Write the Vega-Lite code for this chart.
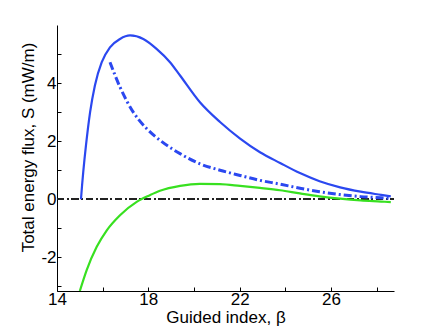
{
  "$schema": "https://vega.github.io/schema/vega-lite/v6.json",
  "width": 337,
  "height": 266,
  "autosize": {"type": "none"},
  "padding": {"left": 57, "top": 25, "right": 42, "bottom": 38},
  "background": "white",
  "config": {
    "view": {"stroke": null},
    "axis": {
      "grid": false,
      "domainColor": "black",
      "domainWidth": 1,
      "tickColor": "black",
      "tickWidth": 1,
      "tickSize": -4,
      "labelFont": "Liberation Sans",
      "labelFontSize": 17,
      "labelColor": "black",
      "labelFlush": false,
      "titleFont": "Liberation Sans",
      "titleFontSize": 17,
      "titleFontWeight": "normal",
      "titleColor": "black"
    }
  },
  "datasets": {
    "curves": [
      {"beta": 15.05, "S": 0.0, "series": "blue"},
      {"beta": 15.1, "S": 0.5, "series": "blue"},
      {"beta": 15.15, "S": 0.94, "series": "blue"},
      {"beta": 15.27, "S": 1.86, "series": "blue"},
      {"beta": 15.45, "S": 3.0, "series": "blue"},
      {"beta": 15.66, "S": 3.92, "series": "blue"},
      {"beta": 15.96, "S": 4.72, "series": "blue"},
      {"beta": 16.32, "S": 5.23, "series": "blue"},
      {"beta": 16.76, "S": 5.52, "series": "blue"},
      {"beta": 17.2, "S": 5.64, "series": "blue"},
      {"beta": 17.78, "S": 5.52, "series": "blue"},
      {"beta": 18.36, "S": 5.18, "series": "blue"},
      {"beta": 18.95, "S": 4.72, "series": "blue"},
      {"beta": 19.39, "S": 4.26, "series": "blue"},
      {"beta": 20.26, "S": 3.34, "series": "blue"},
      {"beta": 21.14, "S": 2.66, "series": "blue"},
      {"beta": 22.02, "S": 2.09, "series": "blue"},
      {"beta": 22.89, "S": 1.62, "series": "blue"},
      {"beta": 23.77, "S": 1.25, "series": "blue"},
      {"beta": 24.64, "S": 0.9, "series": "blue"},
      {"beta": 25.5, "S": 0.62, "series": "blue"},
      {"beta": 26.4, "S": 0.41, "series": "blue"},
      {"beta": 27.3, "S": 0.26, "series": "blue"},
      {"beta": 28.2, "S": 0.15, "series": "blue"},
      {"beta": 28.62, "S": 0.1, "series": "blue"},
      {"beta": 16.32, "S": 4.72, "series": "bluedash"},
      {"beta": 16.76, "S": 3.86, "series": "bluedash"},
      {"beta": 17.34, "S": 3.0, "series": "bluedash"},
      {"beta": 17.93, "S": 2.43, "series": "bluedash"},
      {"beta": 18.51, "S": 2.03, "series": "bluedash"},
      {"beta": 19.39, "S": 1.57, "series": "bluedash"},
      {"beta": 20.26, "S": 1.22, "series": "bluedash"},
      {"beta": 21.14, "S": 1.0, "series": "bluedash"},
      {"beta": 22.02, "S": 0.82, "series": "bluedash"},
      {"beta": 22.89, "S": 0.65, "series": "bluedash"},
      {"beta": 23.77, "S": 0.52, "series": "bluedash"},
      {"beta": 24.64, "S": 0.38, "series": "bluedash"},
      {"beta": 25.5, "S": 0.26, "series": "bluedash"},
      {"beta": 26.4, "S": 0.16, "series": "bluedash"},
      {"beta": 27.3, "S": 0.09, "series": "bluedash"},
      {"beta": 28.2, "S": 0.05, "series": "bluedash"},
      {"beta": 28.62, "S": 0.03, "series": "bluedash"},
      {"beta": 15.0, "S": -3.16, "series": "green"},
      {"beta": 15.3, "S": -2.44, "series": "green"},
      {"beta": 15.74, "S": -1.64, "series": "green"},
      {"beta": 16.18, "S": -1.07, "series": "green"},
      {"beta": 16.76, "S": -0.55, "series": "green"},
      {"beta": 17.49, "S": -0.09, "series": "green"},
      {"beta": 18.07, "S": 0.14, "series": "green"},
      {"beta": 18.51, "S": 0.29, "series": "green"},
      {"beta": 19.39, "S": 0.46, "series": "green"},
      {"beta": 20.26, "S": 0.53, "series": "green"},
      {"beta": 21.14, "S": 0.52, "series": "green"},
      {"beta": 22.02, "S": 0.46, "series": "green"},
      {"beta": 22.89, "S": 0.39, "series": "green"},
      {"beta": 23.77, "S": 0.31, "series": "green"},
      {"beta": 24.64, "S": 0.2, "series": "green"},
      {"beta": 25.5, "S": 0.1, "series": "green"},
      {"beta": 26.4, "S": 0.02, "series": "green"},
      {"beta": 27.3, "S": -0.04, "series": "green"},
      {"beta": 28.2, "S": -0.08, "series": "green"},
      {"beta": 28.62, "S": -0.1, "series": "green"}
    ]
  },
  "data": {"name": "curves"},
  "encoding": {
    "x": {
      "field": "beta", "type": "quantitative",
      "scale": {"domain": [14, 28.76], "nice": false, "zero": false},
      "axis": {
        "title": "Guided index, β",
        "values": [14, 16, 18, 20, 22, 24, 26, 28],
        "labelExpr": "datum.value % 4 == 0 ? '' : datum.label",
        "labelPadding": 4,
        "titleBaseline": "alphabetic",
        "titleY": 31
      }
    },
    "y": {
      "field": "S", "type": "quantitative",
      "scale": {"domain": [-3.16, 6], "nice": false, "zero": false},
      "axis": {
        "title": "Total energy flux,  S (mW/m)",
        "values": [-3, -2, -1, 0, 1, 2, 3, 4, 5],
        "labelExpr": "abs(datum.value) % 2 == 1 ? '' : '' + datum.value",
        "labelPadding": 5,
        "titleX": -29,
        "titleY": 122,
        "titleBaseline": "middle"
      }
    }
  },
  "layer": [
    {
      "mark": {"type": "rule", "color": "#222222", "strokeWidth": 1, "strokeDash": [7, 3, 1.5, 3]},
      "encoding": {"y": {"datum": 0}, "x": {"value": 0}, "x2": {"value": 337}}
    },
    {
      "transform": [{"filter": "datum.series == 'green'"}],
      "mark": {"type": "line", "color": "#38e020", "strokeWidth": 2.2, "interpolate": "monotone", "clip": true}
    },
    {
      "transform": [{"filter": "datum.series == 'bluedash'"}],
      "mark": {"type": "line", "color": "#2b48f0", "strokeWidth": 3, "interpolate": "monotone", "strokeDash": [8, 3, 2, 3], "clip": true}
    },
    {
      "transform": [{"filter": "datum.series == 'blue'"}],
      "mark": {"type": "line", "color": "#2b48f0", "strokeWidth": 2.2, "interpolate": "monotone", "clip": true}
    }
  ]
}
